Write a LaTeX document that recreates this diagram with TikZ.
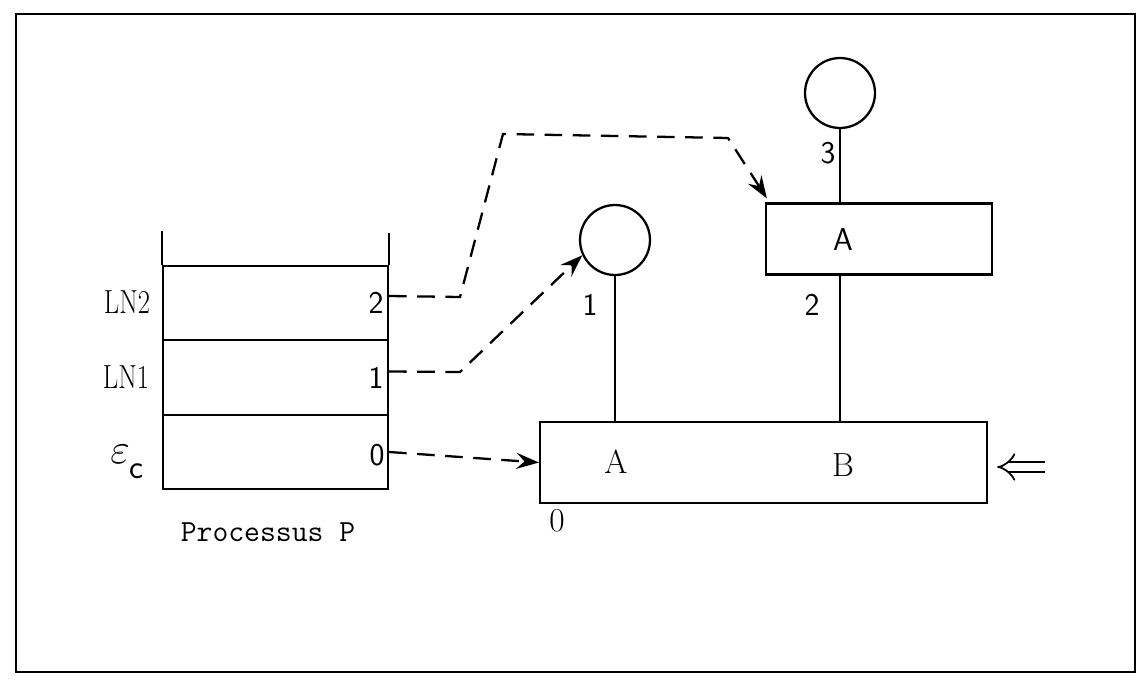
\documentclass[tikz,border=0pt]{standalone}
\usepackage{fontspec}
\usetikzlibrary{arrows.meta}
\newcommand{\narrowtxt}[1]{\scalebox{0.8}[1]{#1}}
\begin{document}
\begin{tikzpicture}
  [x=0.02cm,y=-0.02cm,line width=1.3pt,
   every node/.style={font=\fontsize{19}{22}\selectfont,inner sep=1pt},
   cell/.style={draw,minimum width=4.5cm,minimum height=1.49cm,inner sep=0pt},
   num/.style={font=\fontsize{18}{21}\selectfont\sffamily},
   plug/.style={circle,draw,minimum size=1.4cm,inner sep=0pt},
   link/.style={dash pattern=on 10pt off 6pt,-{Stealth[length=4.5mm,width=3.2mm,inset=1.6mm]}}]
  \useasboundingbox (0,0) rectangle (1140,683);
  \draw (16,14) rectangle (1135,672);

  % pile du processus
  \node[cell] (c2) at (275.5,303) {};
  \node[cell] (c1) at (275.5,377.5) {};
  \node[cell] (c0) at (275.5,452) {};
  \draw (c2.north west) -- ++(0,-34);
  \draw (c2.north east) -- ++(0,-32);

  \node[num] (n2) at (376,303) {2};
  \node[num] (n1) at (376,378) {1};
  \node[num] (n0) at (377,455) {0};
  \node (ln2) at (127,302) {\narrowtxt{LN2}};
  \node (ln1) at (126,377) {\narrowtxt{LN1}};
  \node (eps) at (127,462) {\scalebox{1.4}{$\varepsilon$}\raisebox{-1.1ex}{\sffamily c}};
  \node[font=\fontsize{17.5}{20}\selectfont\ttfamily] (proc) at (268,532) {Processus P};

  % arbre
  \node[draw,minimum width=8.94cm,minimum height=1.62cm] (big) at (763.5,462.5) {};
  \node (ba) at (616,462) {A};
  \node (bb) at (843,465) {B};
  \node (b0) at (557,521) {0};

  \node[draw,minimum width=4.52cm,minimum height=1.42cm] (top) at (879,239) {};
  \node[num] (ta) at (843,240) {A};

  \node[plug] (s1) at (615,240) {};
  \node[plug] (s3) at (840,93) {};

  \draw (s1) -- (s1 |- big.north);
  \draw (s3) -- (s3 |- top.north);
  \draw (top.south -| s3) -- (big.north -| s3);
  \node[num] (l1) at (590,305) {1};
  \node[num] (l2) at (812,305) {2};
  \node[num] (l3) at (828,153) {3};

  % liens
  \draw[link] ([yshift=0.14cm]c2.east) -- (460,297) -- (503,134) -- (728,138) -- ([shift={(2,-4)}]top.north west);
  \draw[link] ([yshift=0.12cm]c1.east) -- (460,372) -- (s1.205);
  \draw[link] (c0.east) -- (big.west);

  % entree
  \coordinate (entry) at (1045,467);
  \draw[line width=1pt,double,double distance=4.5pt,-{Implies}] (entry) -- ([xshift=0.18cm]big.east |- entry);
\end{tikzpicture}
\end{document}
